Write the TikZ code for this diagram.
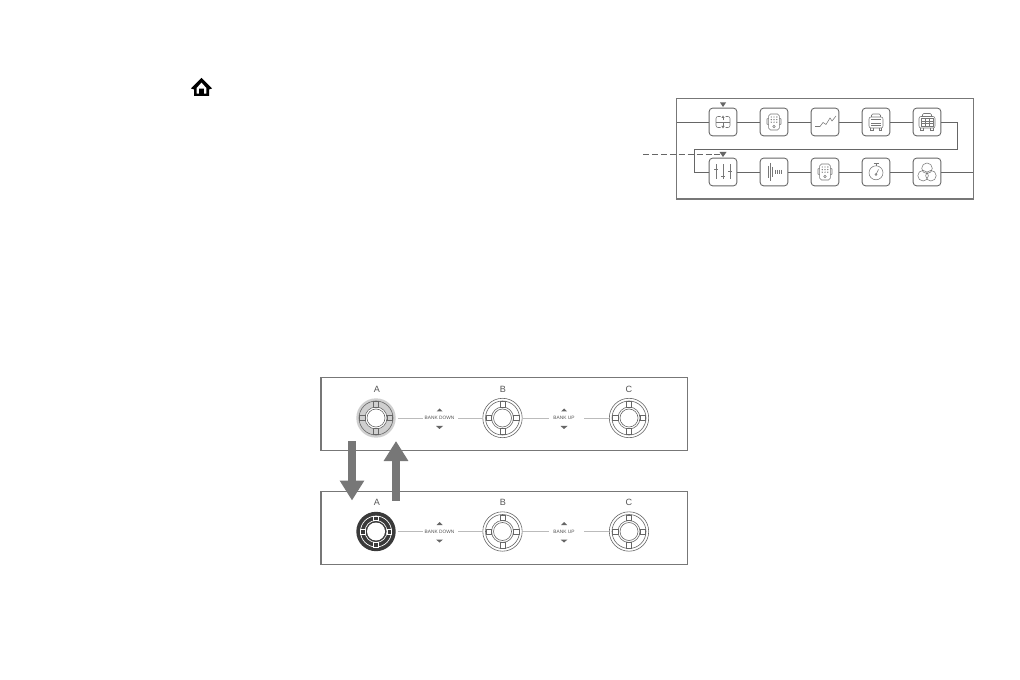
\documentclass[tikz,border=0pt]{standalone}
\usepackage{fontspec}
\setmainfont{Liberation Sans}
\usetikzlibrary{arrows.meta}
\definecolor{fr}{HTML}{777777}
\definecolor{ln}{HTML}{666666}
\definecolor{ic}{HTML}{777777}
\definecolor{lt}{HTML}{BBBBBB}
\definecolor{dk}{HTML}{3A3A3A}
\definecolor{halo}{HTML}{CFCFCF}
\definecolor{lab}{HTML}{555555}
\tikzset{
 panel/.style={draw=fr,line width=.8pt,fill=white,inner sep=0,rectangle},
 block/.style={draw=ln,line width=.65pt,rounded corners=2.6pt,minimum size=20.8pt,inner sep=0,fill=white},
 wire/.style={draw=ln,line width=.6pt},
 thin wire/.style={draw=lt,line width=.5pt},
 icon/.style={draw=ic,line width=.4pt},
 ring/.style={draw=ln,line width=.45pt},
 swlab/.style={font=\fontsize{6.8}{8}\selectfont,text=lab,inner sep=0},
 banklab/.style={font=\fontsize{3.6}{4}\selectfont,text=lab,inner sep=0},
 tri/.style={fill=ln,draw=none},
 bigarrow/.style={draw=fr,line width=6pt,-{Triangle[length=15pt,width=17.5pt]}},
 swnode/.style={circle,minimum size=29.5pt,inner sep=0,draw=none},
}
\newcommand{\tabs}[1]{%
 \foreach \a in {0,90,180,270}{
  \draw[#1,rotate=\a] (-2.4,-16.6) rectangle (2.4,-10.8);
 }}
\newcommand{\plainsw}[2]{% name, pos
 \node[swnode] (#1) at (#2) {};
 \begin{scope}[shift={(#1.center)}]
  \draw[ring] (0,0) circle (19.7) (0,0) circle (17);
  \draw[ring] (0,0) circle (11) (0,0) circle (9);
  \tabs{ring,fill=white}
 \end{scope}}
\newcommand{\halosw}[2]{%
 \node[swnode] (#1) at (#2) {};
 \begin{scope}[shift={(#1.center)}]
  \fill[halo] (0,0) circle (19.7);
  \draw[ring] (0,0) circle (17);
  \draw[ring,fill=white] (0,0) circle (11);
  \draw[ring] (0,0) circle (9);
  \tabs{ring,fill=halo}
 \end{scope}}
\newcommand{\activesw}[2]{%
 \node[swnode] (#1) at (#2) {};
 \begin{scope}[shift={(#1.center)}]
  \fill[dk] (0,0) circle (19.7);
  \draw[white,line width=.5pt] (0,0) circle (15.5);
  \draw[white,line width=.5pt] (0,0) circle (11);
  \fill[white] (0,0) circle (9);
  \foreach \a in {0,90,180,270}{
   \draw[white,line width=.5pt,fill=dk,rotate=\a] (-2.4,-15.5) rectangle (2.4,-11);
  }
 \end{scope}}
\newcommand{\bankctl}[4]{% prefix, x, y, text
 \node[banklab] (#1t) at (#2,#3) {#4};
 \fill[tri] (#2-3,#3-6.5) -- (#2+3,#3-6.5) -- (#2,#3-9.5) -- cycle;
 \fill[tri] (#2-3.5,#3+8) -- (#2+3.5,#3+8) -- (#2,#3+11) -- cycle;
}
\newcommand{\pedalicon}{%
 \draw[icon,rounded corners=1.4pt] (-5.3,-8) rectangle (5.3,8);
 \draw[icon] (-5.3,-4) -- (-7,-3) -- (-7,2) -- (-5.3,3);
 \draw[icon] (5.3,-4) -- (7,-3) -- (7,2) -- (5.3,3);
 \foreach \i in {-2.8,0,2.8}{\foreach \j in {-5,-2.4,.2}{\fill[ic] (\i,\j) circle (.7);}}
 \draw[icon] (0,4.5) circle (1.2);
}
\begin{document}
\begin{tikzpicture}[x=.75pt,y=-.75pt]
\useasboundingbox (0,0) rectangle (1020,680);
% home
\node[inner sep=0,minimum size=1pt] (home) at (201.5,87) {};
\begin{scope}[shift={(home.center)}]
 \fill[black,even odd rule] (-10.5,1.5) -- (0,-9) -- (10.5,1.5) -- (7.5,2.5) -- (7.5,9) -- (-7.5,9) -- (-7.5,2.5) -- cycle
  (-4.8,.8) -- (0,-4.6) -- (4.8,.8) -- (4.8,6.6) -- (2.4,6.6) -- (2.4,1.6) -- (-2.4,1.6) -- (-2.4,6.6) -- (-4.8,6.6) -- cycle;
\end{scope}
% chain panel
\node[panel,minimum width=222.5pt,minimum height=75.5pt] (chain) at (825,148.7) {};
\coordinate (inL) at (676.5,122);
\coordinate (outR) at (973,172);
\coordinate (r1) at (957,122);
\coordinate (r2) at (957,149.8);
\coordinate (l1) at (694.5,149.8);
\coordinate (l2) at (694.5,172);
\coordinate (dashS) at (643,154.5);
\coordinate (dashE) at (720,154.5);
\foreach \n/\x in {a/723,b/774,c/825,d/876,e/927}{\node[block] (\n1) at (\x,122) {};}
\foreach \n/\x in {a/723,b/774,c/825,d/876,e/927}{\node[block] (\n2) at (\x,172) {};}
\draw[wire] (inL) -- (a1);
\draw[wire] (a1) -- (b1);
\draw[wire] (b1) -- (c1);
\draw[wire] (c1) -- (d1);
\draw[wire] (d1) -- (e1);
\draw[wire] (e1) -- (r1) -- (r2) -- (l1) -- (l2) -- (a2);
\draw[wire] (a2) -- (b2);
\draw[wire] (b2) -- (c2);
\draw[wire] (c2) -- (d2);
\draw[wire] (d2) -- (e2);
\draw[wire] (e2) -- (outR);
\draw[wire,dash pattern=on 4.5pt off 2.2pt,fill=none] (dashS) -- (dashE);
\fill[tri] (719.5,152) -- (726.5,152) -- (723,157) -- cycle;
\fill[tri] (720,102.5) -- (726,102.5) -- (723,107) -- cycle;
% icon 1 split
\begin{scope}[shift={(a1.center)}]
 \draw[icon,rounded corners=1.5pt] (-2.5,-5.5) -- (-7,-5.5) -- (-7,5.5) -- (-2.5,5.5);
 \draw[icon,rounded corners=1.5pt] (2.5,-5.5) -- (7,-5.5) -- (7,5.5) -- (2.5,5.5);
 \draw[icon] (-7,0) -- (7,0);
 \draw[icon] (0,-1.5) -- (0,-5); \fill[ic] (-1.6,-4) -- (1.6,-4) -- (0,-6.5) -- cycle;
 \draw[icon] (0,1.5) -- (0,5); \fill[ic] (-1.6,4) -- (1.6,4) -- (0,6.5) -- cycle;
\end{scope}
\begin{scope}[shift={(b1.center)}]\pedalicon\end{scope}
% graph
\begin{scope}[shift={(c1.center)}]
 \draw[icon] (-10,4.5) -- (-5,4.5) -- (-2,.5) -- (1,2.5) -- (5,-4) -- (7,-1) -- (11,-6);
\end{scope}
% amp
\begin{scope}[shift={(d1.center)}]
 \draw[icon,rounded corners=1.5pt] (-7,-5) rectangle (7,6);
 \draw[icon,rounded corners=1pt] (-4.5,-5) -- (-4.5,-8) -- (4.5,-8) -- (4.5,-5);
 \draw[icon] (-5,-2.5) -- (5,-2.5) (-5,1) -- (5,1) (-5,3.5) -- (5,3.5);
 \draw[icon] (-5.5,6) -- (-5.5,8) -- (-3,8) -- (-3,6) (5.5,6) -- (5.5,8) -- (3,8) -- (3,6);
\end{scope}
% cab
\begin{scope}[shift={(e1.center)}]
 \draw[icon,rounded corners=1.5pt] (-8,-5.5) rectangle (8,6);
 \draw[icon,rounded corners=1pt] (-4.5,-5.5) -- (-4.5,-8.5) -- (4.5,-8.5) -- (4.5,-5.5);
 \draw[icon] (-6,-3.5) rectangle (6,4);
 \draw[icon] (-6,-1) -- (6,-1) (-6,1.5) -- (6,1.5);
 \draw[icon] (-2,-3.5) -- (-2,4) (2,-3.5) -- (2,4);
 \draw[icon] (-6.5,6) -- (-6.5,8.5) -- (-3.5,8.5) -- (-3.5,6) (6.5,6) -- (6.5,8.5) -- (3.5,8.5) -- (3.5,6);
\end{scope}
% faders
\begin{scope}[shift={(a2.center)}]
 \draw[icon,line width=.5pt] (-7,-7.5) -- (-7,7.5) (0,-7.5) -- (0,7.5) (7,-7.5) -- (7,7.5);
 \draw[icon,line width=.6pt] (-9,-2.5) -- (-5,-2.5) (-2,4) -- (2,4) (5,-.5) -- (9,-.5);
\end{scope}
% wave
\begin{scope}[shift={(b2.center)}]
 \draw[icon,line width=.5pt] (-6,-6) -- (-6,6) (-4,-9) -- (-4,9) (-2,-5) -- (-2,5) (1,-2) -- (1,2) (3,-2) -- (3,2) (5,-2) -- (5,2) (7,-2) -- (7,2);
\end{scope}
\begin{scope}[shift={(c2.center)}]\pedalicon\end{scope}
% stopwatch
\begin{scope}[shift={(d2.center)}]
 \draw[icon] (0,.8) circle (7);
 \draw[icon,line width=.55pt] (-2.5,-8.5) -- (2.5,-8.5) (0,-8.5) -- (0,-6.2);
 \draw[icon] (0,2.5) -- (2.5,-2.5);
 \draw[icon] (0,2.5) circle (1);
\end{scope}
% three circles
\begin{scope}[shift={(e2.center)}]
 \draw[icon] (0,-3.7) circle (5.3) (-3.9,3.7) circle (5.3) (3.9,3.7) circle (5.3);
\end{scope}
% footswitch panels
\node[panel,minimum width=275pt,minimum height=55pt] (top) at (504.3,414.2) {};
\node[panel,minimum width=275pt,minimum height=55pt] (bot) at (504.3,528) {};
\foreach \p/\y/\ly in {t/418/389,u/531.5/502.5}{
 \node[swlab] (\p la) at (377,\ly) {A};
 \node[swlab] (\p lb) at (503,\ly) {B};
 \node[swlab] (\p lc) at (629,\ly) {C};
}
\halosw{ta}{376,418}
\plainsw{tb}{502.5,418}
\plainsw{tc}{629,418}
\activesw{ua}{376,531.5}
\plainsw{ub}{502.5,531.5}
\plainsw{uc}{629,531.5}
\bankctl{td}{439.5}{418}{BANK DOWN}
\bankctl{tu}{564}{418}{BANK UP}
\bankctl{ud}{439.5}{531.5}{BANK DOWN}
\bankctl{uu}{564}{531.5}{BANK UP}
\foreach \p/\y in {t/418,u/531.5}{
 \coordinate (\p1) at (397.5,\y);
 \coordinate (\p2) at (482.5,\y);
 \coordinate (\p3) at (523,\y);
 \coordinate (\p4) at (609,\y);
 \draw[thin wire] (\p1) -- ++(25,0);
 \draw[thin wire] (\p2) -- ++(-25,0);
 \draw[thin wire] (\p3) -- ++(26,0);
 \draw[thin wire] (\p4) -- ++(-25,0);
}
% big arrows
\coordinate (dnS) at (352,441);
\coordinate (dnE) at (352,500.5);
\coordinate (upS) at (396,500.5);
\coordinate (upE) at (396,441);
\draw[bigarrow] (dnS) -- (dnE);
\draw[bigarrow] (upS) -- (upE);
\end{tikzpicture}
\end{document}
